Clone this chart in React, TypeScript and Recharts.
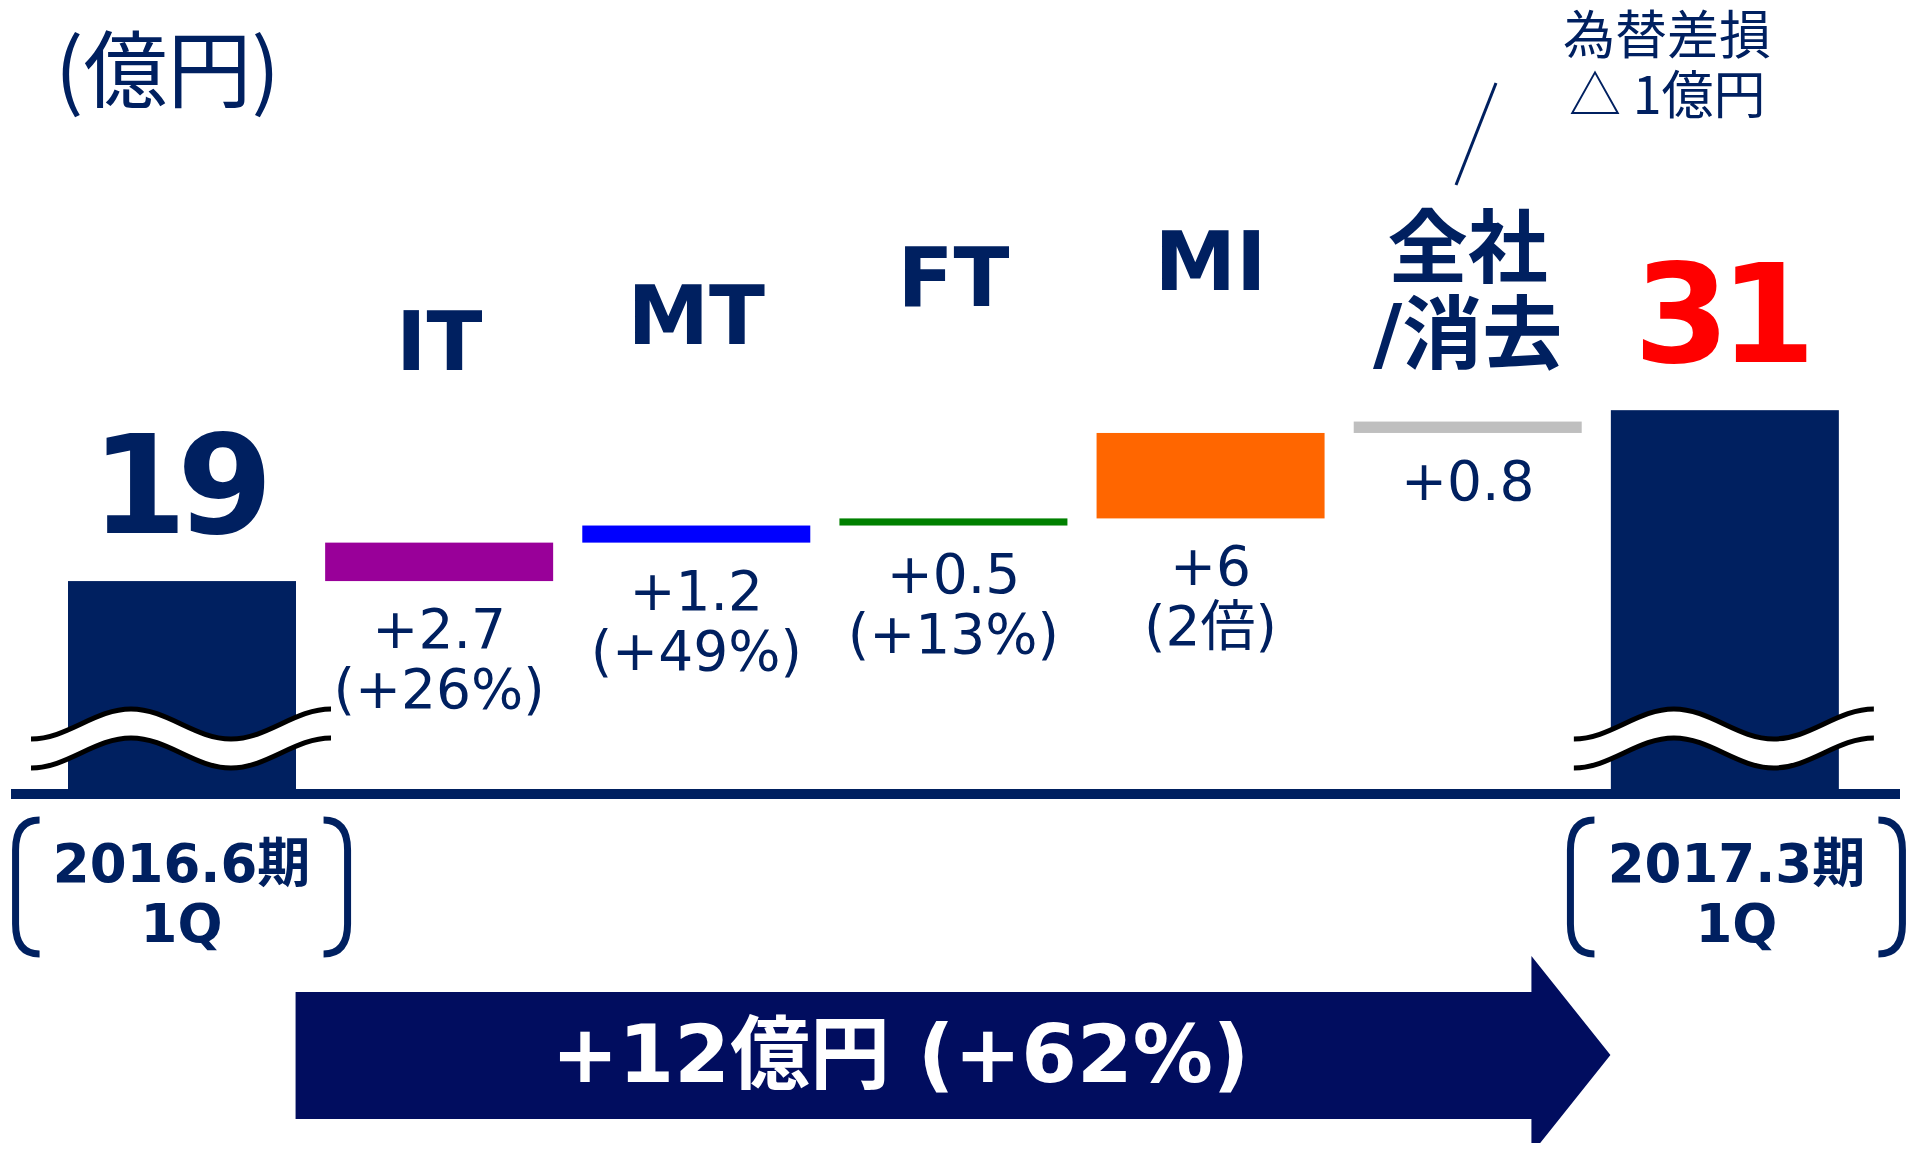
import React from "react";
import { BarChart, Bar, XAxis, YAxis, ReferenceLine } from "recharts";

// ---------- data ----------
const categories = ["2016.6期 1Q", "IT", "MT", "FT", "MI", "全社/消去", "2017.3期 1Q"];
const START_VALUE = 19;
const END_VALUE = 31;
const segmentDeltas = [2.7, 1.2, 0.5, 6, 0.8];
const segmentNameLines = [["IT"], ["MT"], ["FT"], ["MI"], ["全社", "/消去"]];
const segmentValueLines = [
  ["+2.7", "(+26%)"],
  ["+1.2", "(+49%)"],
  ["+0.5", "(+13%)"],
  ["+6", "(2倍)"],
  ["+0.8"],
];
const segmentColors = ["#990099", "#0000FF", "#008000", "#FF6600", "#BFBFBF"];
const periodLabels = [["2016.6期", "1Q"], ["2017.3期", "1Q"]];
const totalLabels = ["19", "31"];
const totalLabelColors = ["#002060", "#FF0000"];
const unitLabel = "(億円)";
const fxNoteLines = ["為替差損", "△ 1億円"];
const arrowLabel = "+12億円 (+62%)";

// ---------- style / layout ----------
const NAVY = "#002060";
const ARROW_NAVY = "#010D5F";
const AXIS_MIN = 4.4;
const AXIS_MAX = 40;
const W = 1900;
const H = 1135;
const MARGIN = { top: 274, right: 55, bottom: 154, left: 45 };
const XAXIS_H = 200;
const BAR_SIZE = 228;
const PLOT_W = W - MARGIN.left - MARGIN.right;
const BAND = PLOT_W / categories.length;
// distance from a floating bar's top to the baseline of its (last) name line
const NAME_LIFT = [173, 182, 212, 143, 60];
const LATIN_BOLD = "'DejaVu Sans', 'Noto Sans CJK JP', sans-serif";
const CJK = "'Noto Sans CJK JP', 'DejaVu Sans', sans-serif";

// ---------- table for recharts ----------
type Row = {
  name: string;
  range: [number, number];
  kind: "total" | "delta";
  idx: number;
};
const data: Row[] = [];
data.push({ name: categories[0], range: [AXIS_MIN, START_VALUE], kind: "total", idx: 0 });
let running = START_VALUE;
segmentDeltas.forEach((d, i) => {
  data.push({ name: categories[i + 1], range: [running, running + d], kind: "delta", idx: i });
  running += d;
});
data.push({ name: categories[6], range: [AXIS_MIN, END_VALUE], kind: "total", idx: 1 });

// ---------- break mark (wavy double line) ----------
type P = [number, number];
function waveSegs(x0: number, h: number, yLow: number, yHigh: number): P[][] {
  const k = 0.3642;
  const ys = [yLow, yHigh, yLow, yHigh];
  const segs: P[][] = [];
  for (let i = 0; i < 3; i++) {
    const sx = x0 + i * h;
    const ex = sx + h;
    segs.push([
      [sx, ys[i]],
      [sx + k * h, ys[i]],
      [ex - k * h, ys[i + 1]],
      [ex, ys[i + 1]],
    ]);
  }
  return segs;
}
const pt = (p: P) => `${p[0].toFixed(2)},${p[1].toFixed(2)}`;
const fwdPath = (s: P[][]) => `M${pt(s[0][0])} ` + s.map((g) => `C${pt(g[1])} ${pt(g[2])} ${pt(g[3])}`).join(" ");
const revPath = (s: P[][]) =>
  `L${pt(s[s.length - 1][3])} ` +
  s
    .slice()
    .reverse()
    .map((g) => `C${pt(g[2])} ${pt(g[1])} ${pt(g[0])}`)
    .join(" ");

const BreakMark = ({ x, w, yb }: { x: number; w: number; yb: number }) => {
  const x0 = x - 37;
  const h = (w + 72) / 3;
  const upper = waveSegs(x0, h, yb - 50, yb - 80);
  const lower = waveSegs(x0, h, yb - 21, yb - 51);
  const fill = fwdPath(upper) + " " + revPath(lower) + " Z";
  return (
    <g>
      <path d={fill} fill="#FFFFFF" stroke="none" />
      <path d={fwdPath(upper)} fill="none" stroke="#000000" strokeWidth={5} />
      <path d={fwdPath(lower)} fill="none" stroke="#000000" strokeWidth={5} />
    </g>
  );
};

// ---------- bar shape ----------
const BarShape = (props: any) => {
  const { x, y, width, height, payload } = props;
  const row: Row = payload;
  const top = Math.min(y, y + height);
  const h = Math.abs(height);
  const bottom = top + h;
  const cx = x + width / 2;
  if (row.kind === "total") {
    return (
      <g>
        <rect x={x} y={top} width={width} height={h} fill={NAVY} />
        <BreakMark x={x} w={width} yb={bottom} />
        <text
          x={cx - 5}
          y={top - 48}
          textAnchor="middle"
          fontFamily={LATIN_BOLD}
          fontWeight="bold"
          fontSize={138}
          letterSpacing={-10}
          fill={totalLabelColors[row.idx]}
        >
          {totalLabels[row.idx]}
        </text>
      </g>
    );
  }
  const nameLines = segmentNameLines[row.idx];
  const valueLines = segmentValueLines[row.idx];
  const lastNameBase = top - NAME_LIFT[row.idx];
  const nameFont = nameLines.length > 1 ? 80 : 82;
  return (
    <g>
      <rect x={x} y={top} width={width} height={h} fill={segmentColors[row.idx]} />
      {nameLines.map((t, i) => (
        <text
          key={"n" + i}
          x={cx}
          y={lastNameBase - (nameLines.length - 1 - i) * 86}
          textAnchor="middle"
          fontFamily={LATIN_BOLD}
          fontWeight="bold"
          fontSize={nameFont}
          fill={NAVY}
        >
          {t}
        </text>
      ))}
      {valueLines.map((t, i) => (
        <text
          key={"v" + i}
          x={cx}
          y={bottom + 67 + i * 60}
          textAnchor="middle"
          fontFamily="'DejaVu Sans', 'Noto Sans CJK JP', sans-serif"
          fontSize={55}
          fill={NAVY}
        >
          {t}
        </text>
      ))}
    </g>
  );
};

// ---------- x-axis tick (period labels in brackets) ----------
const PeriodTick = (props: any) => {
  const { y, index } = props;
  const i = index === 0 ? 0 : index === categories.length - 1 ? 1 : -1;
  if (i < 0) return <g />;
  const x = props.x + (i === 1 ? 12 : 0);
  const lines = periodLabels[i];
  const xl = x - 166;
  const xr = x + 166;
  const yt = y + 31;
  const yb = y + 165;
  const left = `M${xl + 24},${yt} Q${xl},${yt} ${xl},${yt + 30} L${xl},${yb - 30} Q${xl},${yb} ${xl + 24},${yb}`;
  const right = `M${xr - 24},${yt} Q${xr},${yt} ${xr},${yt + 30} L${xr},${yb - 30} Q${xr},${yb} ${xr - 24},${yb}`;
  return (
    <g>
      <path d={left} fill="none" stroke={NAVY} strokeWidth={7} />
      <path d={right} fill="none" stroke={NAVY} strokeWidth={7} />
      {lines.map((t, k) => (
        <text
          key={k}
          x={x}
          y={y + 93 + k * 60}
          textAnchor="middle"
          fontFamily={LATIN_BOLD}
          fontWeight="bold"
          fontSize={53}
          fill={NAVY}
        >
          {t}
        </text>
      ))}
    </g>
  );
};

const AxisLineShape = (props: any) => {
  const { x1, y1, x2, y2 } = props;
  return <line x1={x1 - 42} y1={y1 + 5} x2={x2 + 47} y2={y2 + 5} stroke={NAVY} strokeWidth={10} />;
};

// ---------- overlay annotations ----------
const Overlay = () => {
  const startX = MARGIN.left + BAND * 0.5 + BAR_SIZE / 2;
  const tipX = MARGIN.left + BAND * 6.5 - BAR_SIZE / 2;
  const headX = tipX - 79;
  const bodyTop = 984;
  const bodyBot = 1111;
  const headTop = 948;
  const headBot = 1146;
  const tipY = (headTop + headBot) / 2;
  const arrow = `M${startX},${bodyTop} L${headX},${bodyTop} L${headX},${headTop} L${tipX},${tipY} L${headX},${headBot} L${headX},${bodyBot} L${startX},${bodyBot} Z`;
  return (
    <svg
      width={W}
      height={H + 8}
      style={{ position: "absolute", left: 0, top: 0, overflow: "visible", pointerEvents: "none" }}
    >
      <text x={47} y={93} fontFamily={CJK} fontSize={84} fill={NAVY}>
        {unitLabel}
      </text>
      <text x={1555} y={46} fontFamily={CJK} fontSize={52} fill={NAVY}>
        {fxNoteLines[0]}
      </text>
      <text x={1561} y={106} fontFamily={CJK} fontSize={52} fill={NAVY}>
        {fxNoteLines[1]}
      </text>
      <line x1={1488} y1={75} x2={1448} y2={177} stroke={NAVY} strokeWidth={3} />
      <path d={arrow} fill={ARROW_NAVY} />
      <text
        x={(startX + headX) / 2 - 13}
        y={1074}
        textAnchor="middle"
        fontFamily={LATIN_BOLD}
        fontWeight="bold"
        fontSize={80}
        fill="#FFFFFF"
      >
        {arrowLabel}
      </text>
    </svg>
  );
};

export default function App() {
  return (
    <div style={{ position: "relative", width: W, height: H, background: "#FFFFFF" }}>
      <BarChart width={W} height={H} data={data} margin={MARGIN} barSize={BAR_SIZE}>
        <XAxis
          dataKey="name"
          type="category"
          interval={0}
          axisLine={false}
          tickLine={false}
          tickSize={0}
          tickMargin={0}
          height={XAXIS_H}
          tick={<PeriodTick />}
        />
        <YAxis type="number" domain={[AXIS_MIN, AXIS_MAX]} hide />
        <Bar dataKey="range" shape={<BarShape />} isAnimationActive={false} />
        <ReferenceLine y={AXIS_MIN} shape={<AxisLineShape />} />
      </BarChart>
      <Overlay />
    </div>
  );
}
